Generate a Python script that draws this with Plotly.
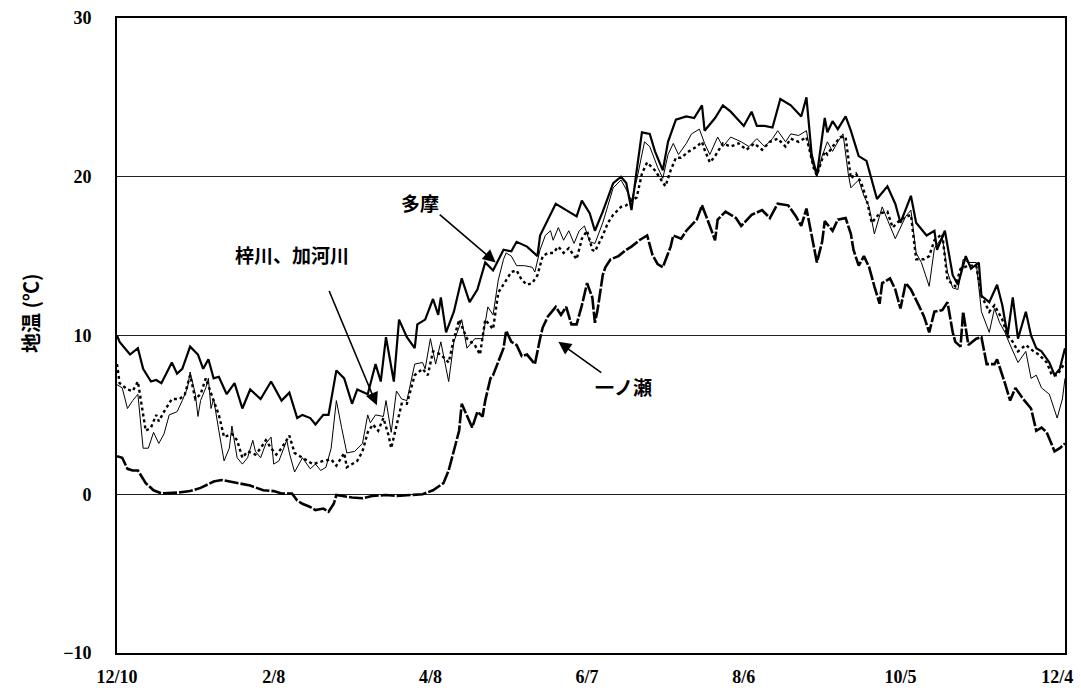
import pandas as pd
import plotly.graph_objects as go

# Daily ground temperature readings, (days since start, °C)
START = "1999-12-10"

tama = [(0, 10.0), (1, 9.6), (5, 8.8), (8, 9.2), (10, 7.9), (13, 7.1), (15, 7.2), (17, 7.0), (21, 8.3),
        (23, 7.6), (25, 7.9), (28, 9.3), (31, 8.8), (33, 7.9), (35, 8.5), (37, 7.3), (39, 7.4), (42, 6.3),
        (45, 7.0), (48, 5.4), (51, 6.6), (55, 6.0), (59, 7.1), (63, 5.9), (66, 6.4), (69, 4.8), (71, 5.0),
        (74, 4.8), (76, 4.4), (79, 5.0), (81, 5.0), (84, 7.8), (87, 7.3), (90, 5.7), (92, 6.6), (96, 6.3),
        (99, 8.2), (101, 7.1), (103, 9.9), (106, 7.1), (108, 11.0), (111, 9.9), (114, 9.2), (115, 10.7),
        (118, 11.0), (121, 12.3), (123, 11.3), (124, 12.4), (126, 10.2), (129, 11.5), (132, 13.6),
        (135, 12.1), (138, 12.9), (141, 14.6), (144, 14.1), (148, 15.4), (151, 15.3), (153, 15.9),
        (157, 15.6), (161, 15.0), (162, 16.3), (165, 17.3), (168, 18.3), (172, 17.9), (176, 17.5),
        (178, 18.5), (181, 17.7), (183, 16.6), (186, 17.8), (190, 19.6), (193, 20.0), (195, 19.6),
        (197, 17.9), (199, 20.4), (201, 22.8), (204, 22.7), (206, 21.6), (209, 20.4), (211, 22.2),
        (214, 23.6), (218, 23.8), (221, 23.7), (224, 24.5), (225, 22.9), (229, 23.7), (232, 24.5),
        (235, 24.1), (240, 23.2), (243, 24.1), (245, 23.2), (248, 23.2), (251, 23.1), (254, 24.9),
        (258, 24.5), (262, 23.8), (264, 25.0), (266, 21.4), (268, 20.1), (271, 23.7), (272, 22.8),
        (274, 23.5), (276, 23.0), (279, 23.8), (281, 22.9), (284, 21.3), (287, 21.0), (289, 19.8),
        (291, 18.6), (295, 19.4), (298, 18.3), (300, 17.1), (304, 18.8), (306, 17.1), (310, 16.3),
        (313, 16.6), (314, 15.4), (317, 16.6), (320, 13.8), (322, 13.2), (325, 15.0), (327, 14.2),
        (330, 14.6), (331, 12.5), (334, 12.1), (337, 13.2), (339, 11.9), (341, 10.0), (343, 12.4),
        (345, 9.8), (348, 11.5), (350, 10.0), (352, 9.2), (354, 9.0), (357, 8.3), (359, 7.5),
        (361, 7.9), (363, 9.2)]

azusa = [(0, 6.9), (2, 6.7), (4, 5.4), (6, 5.9), (8, 6.3), (10, 2.9), (12, 2.9), (14, 3.9), (16, 3.2),
         (18, 3.8), (20, 5.0), (23, 5.2), (25, 5.9), (27, 6.7), (28, 7.7), (30, 6.3), (31, 4.9), (32, 5.9),
         (34, 6.7), (35, 7.3), (36, 5.4), (37, 6.0), (39, 4.0), (41, 2.1), (43, 2.9), (44, 4.3), (46, 2.3),
         (48, 1.9), (50, 2.3), (52, 3.4), (53, 2.7), (55, 2.3), (57, 3.2), (59, 3.6), (60, 1.9), (62, 2.1),
         (65, 3.4), (66, 2.6), (68, 1.4), (71, 2.3), (74, 1.6), (76, 1.9), (78, 1.5), (80, 1.7), (82, 2.9),
         (84, 5.9), (86, 4.2), (88, 2.6), (91, 2.7), (94, 3.2), (96, 5.0), (97, 4.5), (99, 5.0), (102, 4.9),
         (103, 5.9), (105, 3.9), (107, 6.5), (109, 6.0), (111, 5.9), (114, 8.2), (117, 8.3), (118, 7.9),
         (120, 9.8), (122, 8.2), (124, 9.6), (127, 7.1), (129, 9.6), (132, 11.0), (134, 9.2), (137, 9.8),
         (140, 9.8), (142, 11.8), (144, 11.3), (146, 13.5), (148, 14.8), (149, 15.2), (151, 15.0),
         (153, 14.4), (156, 14.4), (159, 14.3), (160, 14.0), (162, 15.4), (164, 16.3), (166, 16.6),
         (167, 16.0), (169, 16.8), (171, 16.0), (173, 16.6), (175, 15.8), (177, 16.6), (179, 16.9),
         (181, 15.9), (183, 15.8), (186, 17.1), (188, 18.2), (190, 19.3), (193, 19.8), (195, 19.2),
         (197, 18.5), (199, 19.8), (202, 22.2), (204, 21.9), (207, 20.6), (209, 19.9), (211, 21.4),
         (213, 22.1), (215, 21.4), (218, 22.1), (220, 22.7), (223, 23.0), (225, 22.1), (227, 21.4),
         (230, 22.5), (232, 21.9), (235, 22.5), (239, 22.2), (242, 21.9), (245, 22.4), (248, 21.9),
         (251, 22.4), (253, 22.9), (256, 22.2), (258, 22.7), (261, 22.6), (264, 22.9), (266, 21.0),
         (268, 20.0), (270, 21.3), (272, 22.2), (274, 21.6), (276, 22.2), (278, 22.7), (280, 20.2),
         (281, 19.3), (284, 19.8), (286, 18.8), (288, 18.1), (290, 16.4), (293, 18.1), (295, 17.3),
         (298, 16.1), (302, 17.5), (304, 17.9), (306, 15.2), (308, 14.6), (311, 13.1), (313, 15.5),
         (316, 16.2), (318, 14.0), (320, 13.0), (322, 12.9), (324, 14.8), (326, 14.6), (329, 14.6),
         (331, 11.5), (334, 10.2), (336, 11.7), (338, 10.8), (340, 10.2), (342, 9.4), (345, 8.3),
         (348, 9.0), (350, 7.3), (352, 7.5), (354, 6.7), (357, 6.3), (360, 4.8), (362, 6.0), (363, 7.3)]

kagawa = [(0, 8.2), (1, 7.0), (4, 6.6), (6, 6.5), (8, 7.1), (10, 5.2), (11, 4.0), (13, 4.2), (15, 5.0),
          (16, 4.6), (18, 5.2), (21, 6.0), (24, 6.0), (26, 6.3), (28, 7.5), (30, 6.0), (32, 6.3), (34, 7.3),
          (36, 6.3), (37, 5.9), (39, 5.0), (41, 3.6), (44, 3.8), (46, 3.4), (48, 2.3), (50, 2.7), (53, 2.5),
          (55, 2.9), (57, 3.4), (59, 2.9), (61, 2.5), (63, 2.9), (66, 3.7), (68, 2.6), (72, 2.2), (75, 1.9),
          (79, 2.1), (82, 2.2), (84, 1.8), (87, 2.6), (88, 1.7), (92, 2.1), (94, 2.7), (96, 3.9), (98, 4.4),
          (100, 4.0), (102, 4.8), (104, 3.7), (105, 2.9), (107, 4.4), (109, 5.7), (111, 5.7), (114, 7.5),
          (117, 7.9), (119, 7.5), (121, 9.0), (124, 8.8), (127, 8.3), (129, 9.8), (131, 11.0), (134, 9.8),
          (137, 9.4), (139, 8.8), (141, 11.0), (144, 10.4), (146, 12.7), (149, 13.5), (151, 14.0),
          (153, 14.1), (155, 13.5), (157, 13.2), (159, 13.3), (161, 13.8), (163, 15.0), (165, 15.2),
          (167, 15.2), (169, 15.6), (171, 15.2), (173, 15.5), (176, 14.8), (178, 16.1), (180, 16.6),
          (182, 15.4), (183, 15.3), (186, 16.3), (188, 17.1), (190, 17.6), (193, 18.1), (195, 18.2),
          (197, 18.5), (199, 18.7), (201, 20.2), (203, 20.9), (206, 20.4), (208, 19.9), (210, 19.4),
          (212, 20.4), (214, 21.2), (216, 21.2), (219, 21.6), (222, 21.9), (224, 22.2), (225, 21.7),
          (227, 20.9), (229, 21.3), (232, 22.1), (235, 21.9), (238, 22.1), (241, 21.7), (244, 22.1),
          (247, 21.7), (250, 22.2), (253, 22.4), (256, 21.9), (258, 22.4), (261, 22.2), (264, 22.5),
          (267, 20.4), (268, 20.1), (271, 21.6), (272, 21.4), (274, 21.9), (277, 22.5), (279, 22.5),
          (281, 19.9), (283, 20.2), (285, 19.6), (287, 18.6), (289, 17.1), (292, 17.7), (295, 17.8),
          (297, 16.8), (300, 17.3), (304, 17.6), (306, 14.8), (309, 14.8), (311, 15.0), (313, 16.0),
          (316, 16.4), (318, 13.5), (321, 13.1), (323, 14.2), (326, 14.4), (329, 14.4), (331, 12.5),
          (334, 11.5), (336, 11.9), (339, 11.0), (341, 10.0), (343, 9.6), (345, 9.0), (348, 9.4),
          (351, 9.0), (353, 8.8), (356, 8.3), (358, 7.5), (360, 7.5), (363, 8.3)]

ichinose = [(0, 2.4), (2, 2.3), (4, 1.6), (6, 1.5), (8, 1.5), (11, 0.7), (14, 0.25), (17, 0.05), (23, 0.1),
            (28, 0.2), (32, 0.4), (37, 0.8), (40, 0.9), (46, 0.7), (51, 0.55), (56, 0.25), (60, 0.2),
            (63, 0.05), (67, 0.05), (69, -0.4), (71, -0.6), (74, -0.8), (76, -1.0), (79, -0.9), (81, -1.1),
            (83, -0.6), (84, -0.05), (90, -0.2), (94, -0.25), (98, -0.1), (103, -0.05), (107, -0.1),
            (117, 0.0), (121, 0.25), (125, 0.7), (127, 1.5), (129, 2.7), (131, 4.0), (132, 5.7), (134, 5.0),
            (136, 4.2), (138, 5.2), (140, 4.9), (141, 5.9), (143, 7.3), (144, 7.5), (146, 8.3), (148, 9.2),
            (149, 10.3), (151, 9.6), (153, 9.4), (155, 8.7), (157, 8.8), (160, 8.2), (162, 9.8), (163, 10.5),
            (165, 11.2), (168, 11.8), (170, 11.3), (172, 11.8), (174, 10.7), (176, 10.7), (178, 11.9),
            (180, 13.3), (182, 12.4), (183, 10.8), (184, 11.6), (186, 13.8), (187, 14.3), (189, 14.8),
            (192, 15.0), (195, 15.4), (197, 15.6), (200, 16.0), (203, 16.3), (205, 15.1), (207, 14.5),
            (209, 14.3), (212, 15.6), (213, 16.3), (216, 16.1), (218, 16.6), (222, 17.3), (224, 18.2),
            (227, 16.9), (229, 16.0), (230, 17.3), (233, 17.8), (237, 17.4), (239, 16.9), (243, 17.6),
            (247, 17.9), (250, 17.4), (253, 18.3), (257, 18.2), (260, 17.5), (262, 16.9), (264, 18.0),
            (266, 16.3), (268, 14.6), (270, 15.9), (271, 17.2), (274, 16.6), (276, 17.3), (279, 17.4),
            (281, 16.4), (282, 15.4), (284, 14.4), (286, 15.0), (288, 14.3), (290, 13.1), (292, 12.0),
            (293, 13.3), (296, 13.6), (298, 12.9), (300, 11.7), (302, 13.3), (304, 12.9), (307, 11.9),
            (309, 11.2), (311, 10.2), (313, 11.5), (316, 11.6), (318, 12.1), (320, 10.2), (321, 9.6),
            (323, 9.3), (324, 11.5), (326, 9.4), (329, 9.8), (331, 9.9), (333, 8.2), (336, 8.2), (337, 8.5),
            (340, 7.0), (342, 5.9), (344, 6.7), (347, 6.0), (350, 5.4), (352, 4.0), (354, 4.2), (356, 3.9),
            (359, 2.7), (361, 2.9), (363, 3.2)]

y_ticks = [-10, 0, 10, 20, 30]

start = pd.Timestamp(START)


def to_xy(series):
    days, vals = zip(*series)
    return [start + pd.Timedelta(days=d) for d in days], list(vals)


def day(d):
    return start + pd.Timedelta(days=d)


fig = go.Figure()

styles = [
    ("梓川", azusa, dict(color="black", width=1.0)),
    ("加河川", kagawa, dict(color="black", width=2.4, dash="3px,3px")),
    ("一ノ瀬", ichinose, dict(color="black", width=2.6, dash="14px,2px")),
    ("多摩", tama, dict(color="black", width=2.2)),
]
for name, series, line in styles:
    xs, ys = to_xy(series)
    fig.add_trace(go.Scatter(x=xs, y=ys, mode="lines", name=name, line=line, showlegend=False))

serif = "Liberation Serif, DejaVu Serif, serif"
jp = "Noto Sans CJK JP, sans-serif"
tick_font = dict(family=serif, size=18, color="black", weight="bold")

fig.update_xaxes(
    type="date",
    range=[day(0), day(363)],
    tick0=day(0),
    dtick=60 * 86400000,
    tickformat="%-m/%-d",
    showgrid=False,
    zeroline=False,
    showline=True,
    linecolor="black",
    linewidth=2,
    mirror=True,
    ticks="",
    ticklabelstandoff=6,
    tickfont=tick_font,
)
fig.update_yaxes(
    range=[-10, 30],
    tickvals=y_ticks,
    showgrid=True,
    gridcolor="#222222",
    gridwidth=1.3,
    zeroline=False,
    showline=True,
    linecolor="black",
    linewidth=2,
    mirror=True,
    ticks="",
    ticklabelstandoff=20,
    tickfont=tick_font,
)

arrow = dict(showarrow=True, arrowhead=2, arrowsize=1.6, arrowwidth=1.6, arrowcolor="black",
             axref="x", ayref="y", text="")
fig.add_annotation(x=day(145), y=14.6, ax=day(123), ay=17.7, **arrow)
fig.add_annotation(x=day(99.5), y=5.6, ax=day(81), ay=12.9, **arrow)
fig.add_annotation(x=day(169), y=9.6, ax=day(186), ay=7.6, **arrow)

label_font = dict(family=jp, size=19, color="black")
fig.add_annotation(x=day(116), y=18.4, text="<b>多摩</b>", showarrow=False, font=label_font)
fig.add_annotation(x=day(67), y=15.1, text="<b>梓川、加河川</b>", showarrow=False, font=label_font)
fig.add_annotation(x=day(194), y=6.8, text="<b>一ノ瀬</b>", showarrow=False, font=label_font)

fig.add_annotation(xref="paper", yref="paper", x=-0.092, y=0.535, xanchor="center", yanchor="middle",
                   text="<b>地温 (℃)</b>", textangle=-90, showarrow=False,
                   font=dict(family=jp, size=20, color="black"))

fig.update_layout(
    width=1081,
    height=695,
    margin=dict(l=117, r=14, t=8, b=41),
    paper_bgcolor="white",
    plot_bgcolor="white",
)

fig.write_html("out.html")
